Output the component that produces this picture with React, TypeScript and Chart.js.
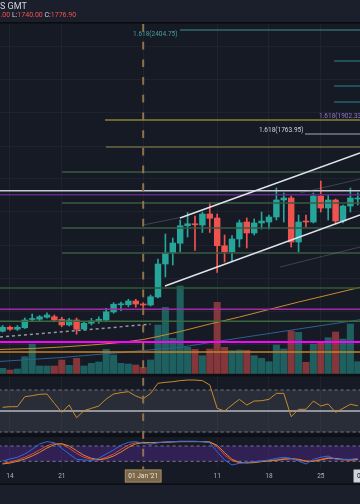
import { useEffect, useRef } from 'react';
import { Chart, registerables } from 'chart.js';

Chart.register(...registerables);

// ===================== DATA =====================
// day index: 0 = 14 Dec 2020
const days = [-1, 0, 1, 2, 3, 4, 5, 6, 7, 8, 9, 10, 11, 12, 13, 14, 15, 16, 17, 18, 19, 20, 21, 22, 23, 24, 25, 26, 27, 28, 29, 30, 31, 32, 33, 34, 35, 36, 37, 38, 39, 40, 41, 42, 43, 44, 45, 46, 47];
const opens = [1231, 1247, 1239, 1245, 1278, 1279, 1287, 1289, 1279, 1256, 1276, 1240, 1263, 1273, 1276, 1308, 1337, 1337, 1352, 1340, 1336, 1368, 1500, 1544, 1583, 1653, 1661, 1656, 1700, 1684, 1573, 1549, 1600, 1668, 1624, 1664, 1668, 1688, 1756, 1764, 1588, 1672, 1668, 1772, 1724, 1756, 1672, 1732, 1760];
const highs = [1254, 1252, 1254, 1284, 1300, 1294, 1305, 1296, 1287, 1283, 1284, 1269, 1283, 1289, 1323, 1345, 1348, 1359, 1359, 1345, 1376, 1520, 1620, 1604, 1676, 1706, 1692, 1708, 1746, 1700, 1616, 1614, 1676, 1684, 1680, 1708, 1696, 1804, 1784, 1772, 1696, 1696, 1784, 1832, 1776, 1760, 1736, 1804, 1784];
const lows = [1228, 1234, 1234, 1242, 1269, 1274, 1283, 1269, 1249, 1252, 1219, 1236, 1256, 1263, 1269, 1303, 1313, 1329, 1327, 1329, 1332, 1364, 1448, 1496, 1548, 1608, 1554, 1626, 1626, 1466, 1508, 1508, 1568, 1564, 1616, 1640, 1640, 1676, 1668, 1568, 1548, 1648, 1664, 1708, 1676, 1660, 1664, 1708, 1736];
const closes = [1247, 1239, 1247, 1276, 1280, 1289, 1296, 1276, 1256, 1276, 1239, 1263, 1272, 1279, 1309, 1339, 1339, 1352, 1340, 1336, 1369, 1500, 1544, 1584, 1653, 1661, 1657, 1700, 1683, 1573, 1549, 1600, 1665, 1624, 1664, 1672, 1688, 1756, 1764, 1588, 1668, 1668, 1772, 1724, 1756, 1672, 1732, 1764, 1764];
const volumes = [52, 35, 45, 168, 295, 75, 75, 75, 135, 82, 152, 75, 102, 115, 242, 185, 102, 95, 85, 62, 135, 485, 662, 352, 875, 262, 242, 178, 245, 712, 262, 228, 235, 232, 178, 152, 118, 285, 245, 425, 412, 112, 295, 302, 358, 415, 345, 495, 118];

const rsiValues = [53.5, 54.1, 54.1, 63.6, 64.6, 65.9, 66.2, 57.3, 48.7, 55.7, 43.6, 50.3, 52.5, 54.8, 61.4, 66.2, 67.5, 68.4, 64.3, 61.7, 66.8, 76.4, 77.3, 77.9, 78.9, 79.5, 79.5, 78.9, 74.8, 52.5, 50.0, 55.7, 61.1, 55.7, 59.5, 59.8, 61.1, 66.8, 66.8, 44.6, 51.6, 51.6, 59.5, 54.8, 56.7, 48.7, 52.5, 56.4, 55.0];
const rsiBands = [70, 50, 30];

const stochK = [21.2, 29.0, 35.6, 48.6, 66.9, 87.8, 97.0, 93.1, 70.9, 48.6, 27.7, 25.1, 22.5, 31.6, 48.6, 64.3, 82.6, 94.4, 97.0, 90.4, 86.5, 93.1, 95.7, 97.0, 98.3, 98.3, 98.3, 97.0, 93.1, 57.8, 25.1, 5.5, 12.0, 16.0, 18.6, 21.2, 25.1, 31.6, 35.6, 31.6, 21.2, 9.4, 27.7, 35.6, 40.8, 27.7, 27.7, 27.7, 31.6];
const stochD = [12.0, 17.3, 25.1, 35.6, 48.6, 64.3, 81.3, 90.4, 87.8, 70.9, 51.2, 35.6, 27.7, 25.1, 35.6, 48.6, 66.9, 83.9, 93.1, 94.4, 93.1, 94.4, 95.7, 97.0, 98.3, 98.3, 98.3, 97.0, 95.7, 77.4, 44.7, 22.5, 14.7, 14.7, 17.3, 21.2, 22.5, 25.1, 30.3, 30.3, 25.1, 18.6, 21.2, 27.7, 34.3, 30.3, 25.1, 25.1, 27.7];
const stochSlow = [9.4, 13.3, 19.9, 29.0, 40.8, 55.2, 72.2, 85.2, 89.1, 80.0, 61.7, 43.4, 31.6, 26.4, 30.3, 40.8, 56.5, 74.8, 87.8, 93.1, 93.1, 93.1, 94.4, 95.7, 97.0, 97.0, 97.0, 97.0, 95.7, 82.6, 53.9, 27.7, 16.0, 13.3, 14.7, 18.6, 21.2, 23.8, 27.7, 30.3, 27.7, 21.2, 19.9, 25.1, 31.6, 31.6, 27.7, 25.1, 26.4];
const stochBands = [80, 20];

const maSlowDays = [-1.5, 3, 7, 11, 15, 18, 20, 23, 27, 31, 35, 39, 43, 47.5];
const maSlowValues = [1158, 1162, 1168, 1176, 1186, 1198, 1210, 1230, 1260, 1288, 1318, 1348, 1376, 1408];
const maFastDays = [-1.5, 7, 15, 23, 31, 39, 47.5];
const maFastValues = [1110, 1126, 1146, 1167, 1204, 1240, 1278];

const dashedTrendDays = [-1.35, 19];
const dashedTrendValues = [1208, 1259];
const channelLowerDays = [20.95, 47.3];
const channelLowerValues = [1412, 1696];
const channelUpperDays = [22.97, 47.3];
const channelUpperValues = [1684, 1944];
const faintLineDays = [[18, 22.97], [36.5, 47.3], [39.2, 47.3]];
const faintLineValues = [[1656, 1686], [1488, 1568], [1784, 1840]];

const levelPrices = [2436, 2312, 2212, 2148, 2076, 2020, 1968, 1868, 1793.2, 1776.9, 1744, 1644, 1544, 1404, 1318.8, 1270.8, 1188, 1148];
const levelStartDays = [22.97, 43.8, 43.8, 43.8, 12.84, 39.86, 12.97, 7.03, -1.35, -1.35, 7.03, 7.03, 7.03, -1.35, -1.35, -1.35, -1.35, -1.35];

const fibLabels = ['1.618(2404.75)', '1.618(1902.33)', '1.618(1763.95)'];
const fibLabelLevels = [2436, 2076, 2020];

const gridPrices = [2368, 2236, 2104, 1972, 1840, 1708, 1576, 1444, 1312, 1180];
const tickDays = [0, 7, 18, 28, 35, 42];
const tickLabels = ['14', '21', '2021', '11', '18', '25'];

const crosshairDay = 18;
const crosshairLabel = "01 Jan '21";
const lastBoxDay = 48.9;
const lastBoxLabel = "01 Feb '21";

const headerTitle = 'S GMT';
const headerOhlc = [['3.00', 'v'], [' L:', 'k'], ['1740.00', 'v'], [' C:', 'k'], ['1776.90', 'v']];

// ===================== STYLE =====================
const FONT = 'Roboto, "Noto Sans", sans-serif';
const UP = '#26a69a';
const DOWN = '#ef5350';
const levelStyles = [
  { c: '#3d8f8c', w: 1 },
  { c: '#2b8791', w: 1 },
  { c: '#2b8791', w: 1 },
  { c: '#2b8791', w: 1 },
  { c: '#c2b23a', w: 1 },
  { c: '#a6a9b1', w: 1 },
  { c: '#8e8955', w: 1 },
  { c: '#3a5b41', w: 1.5 },
  { c: '#c6c9cf', w: 1.5 },
  { c: '#5e2a86', w: 1.5 },
  { c: '#3a5b41', w: 1.5 },
  { c: '#3a5b41', w: 1.5 },
  { c: '#3a5b41', w: 1.5 },
  { c: '#2e5c35', w: 1.5 },
  { c: '#a02ca5', w: 1.5 },
  { c: '#3b683f', w: 1.5 },
  { c: '#ff00ff', w: 2 },
  { c: '#c98220', w: 1.5 },
];
const fibLabelColors = ['#45a19b', '#9575cd', '#d1d4dc'];

const X_MIN = -1.35;
const X_MAX = 47.3;

function seg(xs: number[], ys: number[], color: string, width: number, axis = 'y', dash: number[] = [], order = 40) {
  return {
    type: 'line' as const,
    data: xs.map((x, i) => ({ x, y: ys[i] })),
    borderColor: color,
    borderWidth: width,
    borderDash: dash,
    pointRadius: 0,
    yAxisID: axis,
    order,
    tension: 0,
    fill: false,
    spanGaps: true,
  };
}

const decorPlugin = {
  id: 'decor',
  beforeDraw(chart: any) {
    const { ctx, width, height } = chart;
    ctx.save();
    ctx.fillStyle = '#161a25';
    ctx.fillRect(0, 0, width, height);
    ctx.fillStyle = '#1b1f2b';
    ctx.fillRect(0, 0, width, 22);
    ctx.fillStyle = '#090b10';
    ctx.fillRect(0, 22, width, 1.5);
    ctx.fillStyle = '#1b1f2b';
    ctx.fillRect(0, 484.5, width, height - 484.5);
    ctx.fillStyle = '#090b10';
    ctx.fillRect(0, 483.5, width, 1.2);
    ctx.restore();
  },
  beforeDatasetsDraw(chart: any) {
    const { ctx, chartArea: a, scales } = chart;
    const r = scales.yRsi;
    const s = scales.yStoch;
    const v = scales.yVol;
    ctx.save();
    const y70 = r.getPixelForValue(rsiBands[0]);
    const y30 = r.getPixelForValue(rsiBands[2]);
    ctx.fillStyle = 'rgba(150,155,170,0.15)';
    ctx.fillRect(a.left, y70, a.right - a.left, y30 - y70);
    const y80 = s.getPixelForValue(stochBands[0]);
    const y20 = s.getPixelForValue(stochBands[1]);
    ctx.fillStyle = 'rgba(120,50,210,0.28)';
    ctx.fillRect(a.left, y80, a.right - a.left, y20 - y80);
    ctx.fillStyle = '#0d0f15';
    const mainBottom = v.getPixelForValue(0);
    ctx.fillRect(a.left, mainBottom, a.right - a.left, 3);
    ctx.fillRect(a.left, y30 + 1.5, a.right - a.left, 3.5);
    ctx.restore();
  },
  afterDraw(chart: any) {
    const { ctx, scales } = chart;
    const xs = scales.x;
    const yp = scales.y;
    ctx.save();
    ctx.textBaseline = 'middle';

    // fib labels
    ctx.font = `6.5px ${FONT}`;
    // teal (right aligned, left of its level start)
    ctx.fillStyle = fibLabelColors[0];
    ctx.textAlign = 'right';
    ctx.fillText(fibLabels[0], xs.getPixelForValue(levelStartDays[0]) - 2.5, yp.getPixelForValue(fibLabelLevels[0]) + 4.5);
    // purple (left aligned near right edge, above yellow level)
    ctx.fillStyle = fibLabelColors[1];
    ctx.textAlign = 'left';
    ctx.fillText(fibLabels[1], xs.getPixelForValue(41.76), yp.getPixelForValue(fibLabelLevels[1]) - 4);
    // grey (right aligned, left of its level start)
    ctx.fillStyle = fibLabelColors[2];
    ctx.textAlign = 'right';
    ctx.fillText(fibLabels[2], xs.getPixelForValue(levelStartDays[5]) - 1.5, yp.getPixelForValue(fibLabelLevels[2]) - 3.3);

    // header
    ctx.textAlign = 'left';
    ctx.font = `9px ${FONT}`;
    ctx.fillStyle = '#d1d4dc';
    ctx.fillText(headerTitle, 0, 6.5);
    ctx.font = `7px ${FONT}`;
    let hx = -3.5;
    for (const [t, k] of headerOhlc) {
      ctx.fillStyle = k === 'v' ? '#ef5350' : '#d1d4dc';
      ctx.fillText(t, hx, 15);
      hx += ctx.measureText(t).width;
    }

    // crosshair date box
    ctx.font = `6.5px ${FONT}`;
    const xc = xs.getPixelForValue(crosshairDay);
    const w = ctx.measureText(crosshairLabel).width + 7;
    ctx.fillStyle = '#7b6749';
    ctx.fillRect(xc - w / 2, 469.5, w, 13);
    ctx.strokeStyle = '#9a8461';
    ctx.lineWidth = 1;
    ctx.strokeRect(xc - w / 2 + 0.5, 470, w - 1, 12);
    ctx.fillStyle = '#efe6d6';
    ctx.textAlign = 'center';
    ctx.fillText(crosshairLabel, xc, 476.5);

    // last date box (clipped at right edge)
    const xl = xs.getPixelForValue(lastBoxDay);
    const w2 = ctx.measureText(lastBoxLabel).width + 7;
    ctx.fillStyle = '#d1d4dc';
    ctx.fillRect(xl - w2 / 2, 469.5, w2, 13);
    ctx.fillStyle = '#131722';
    ctx.fillText(lastBoxLabel, xl, 476.5);
    ctx.restore();
  },
};

export default function App() {
  const ref = useRef<HTMLCanvasElement>(null);

  useEffect(() => {
    const canvas = ref.current;
    if (!canvas) return;

    const candleColors = days.map((_, i) => (closes[i] >= opens[i] ? UP : DOWN));
    const volColors = days.map((_, i) => (closes[i] >= opens[i] ? 'rgba(38,166,154,0.5)' : 'rgba(239,83,80,0.5)'));

    const datasets: any[] = [];

    datasets.push({
      type: 'bar',
      data: days.map((d, i) => ({ x: d, y: volumes[i] })),
      backgroundColor: volColors,
      barThickness: 6.4,
      grouped: false,
      yAxisID: 'yVol',
      order: 100,
      borderWidth: 0,
    });

    datasets.push(seg(maSlowDays, maSlowValues, '#c98a2e', 1, 'y', [], 60));
    datasets.push(seg(maFastDays, maFastValues, '#2f5f8f', 1, 'y', [], 60));
    datasets.push(seg(dashedTrendDays, dashedTrendValues, '#9598a1', 1.5, 'y', [3, 3], 60));

    datasets.push({
      type: 'bar',
      data: days.map((d, i) => ({ x: d, y: [lows[i], highs[i]] })),
      backgroundColor: candleColors,
      barThickness: 1,
      grouped: false,
      yAxisID: 'y',
      order: 25,
      borderWidth: 0,
    });
    datasets.push({
      type: 'bar',
      data: days.map((d, i) => ({ x: d, y: [opens[i], closes[i]] })),
      backgroundColor: candleColors,
      barThickness: 5.8,
      minBarLength: 1,
      grouped: false,
      yAxisID: 'y',
      order: 20,
      borderWidth: 0,
    });

    levelPrices.forEach((p, i) => {
      datasets.push(seg([levelStartDays[i], X_MAX + 1], [p, p], levelStyles[i].c, levelStyles[i].w, 'y', [], 15));
    });

    faintLineDays.forEach((xsx, i) => {
      datasets.push(seg(xsx, faintLineValues[i], 'rgba(140,143,153,0.35)', 1, 'y', [], 14));
    });
    datasets.push(seg(channelLowerDays, channelLowerValues, '#e0e3eb', 1.5, 'y', [], 12));
    datasets.push(seg(channelUpperDays, channelUpperValues, '#e0e3eb', 1.5, 'y', [], 12));

    // RSI pane
    datasets.push(seg([X_MIN - 1, X_MAX + 1], [rsiBands[0], rsiBands[0]], '#787b86', 1, 'yRsi', [3, 3], 50));
    datasets.push(seg([X_MIN - 1, X_MAX + 1], [rsiBands[1], rsiBands[1]], '#b4b7bf', 1.3, 'yRsi', [], 50));
    datasets.push(seg([X_MIN - 1, X_MAX + 1], [rsiBands[2], rsiBands[2]], '#787b86', 1, 'yRsi', [3, 3], 50));
    datasets.push(seg(days, rsiValues, '#c88a2e', 1, 'yRsi', [], 30));

    // Stoch pane
    datasets.push(seg([X_MIN - 1, X_MAX + 1], [stochBands[0], stochBands[0]], '#7d7896', 1, 'yStoch', [3, 3], 50));
    datasets.push(seg([X_MIN - 1, X_MAX + 1], [stochBands[1], stochBands[1]], '#7d7896', 1, 'yStoch', [3, 3], 50));
    datasets.push(seg(days, stochD, '#e0463e', 1, 'yStoch', [], 32));
    datasets.push(seg(days, stochSlow, '#d98a2b', 1, 'yStoch', [], 31));
    datasets.push(seg(days, stochK, '#2b6ce0', 1, 'yStoch', [], 30));

    // crosshair
    datasets.push(seg([crosshairDay, crosshairDay], [2460, 680], 'rgba(150,118,76,0.95)', 2, 'y', [7.7, 10], 1));

    const chart = new Chart(canvas, {
      type: 'line',
      data: { datasets },
      options: {
        responsive: false,
        animation: false,
        devicePixelRatio: 1,
        events: [],
        layout: { padding: { top: 24, bottom: 20, left: 0, right: 0 } },
        plugins: { legend: { display: false }, tooltip: { enabled: false } },
        scales: {
          x: {
            type: 'linear',
            min: X_MIN,
            max: X_MAX,
            offset: false,
            position: 'bottom',
            grid: { color: 'rgba(255,255,255,0.045)', drawTicks: false, offset: false },
            border: { display: false },
            ticks: {
              autoSkip: false,
              maxRotation: 0,
              padding: 3,
              color: '#b2b5be',
              font: { family: FONT, size: 6.5 },
              callback: (v: any) => {
                const i = tickDays.indexOf(Number(v));
                return i >= 0 ? tickLabels[i] : '';
              },
            },
            afterBuildTicks: (s: any) => {
              s.ticks = tickDays.map((v) => ({ value: v }));
            },
            afterFit: (s: any) => {
              s.height = 15;
            },
          },
          y: {
            type: 'linear',
            min: 680,
            max: 2460,
            position: 'left',
            grid: { color: 'rgba(255,255,255,0.035)', drawTicks: false },
            border: { display: false },
            ticks: { display: false },
            afterBuildTicks: (s: any) => {
              s.ticks = gridPrices.map((v) => ({ value: v }));
            },
            afterFit: (s: any) => {
              s.width = 0;
            },
          },
          yVol: { type: 'linear', display: false, min: -955, max: 3495 },
          yRsi: { type: 'linear', display: false, min: -5.238, max: 418.571 },
          yStoch: { type: 'linear', display: false, min: -10.2, max: 1734.9 },
        },
      } as any,
      plugins: [decorPlugin],
    });

    return () => chart.destroy();
  }, []);

  return (
    <div style={{ position: 'fixed', left: 0, top: 0, width: 360, height: 504, background: '#161a25' }}>
      <canvas ref={ref} width={360} height={504} style={{ display: 'block', width: 360, height: 504 }} />
    </div>
  );
}
